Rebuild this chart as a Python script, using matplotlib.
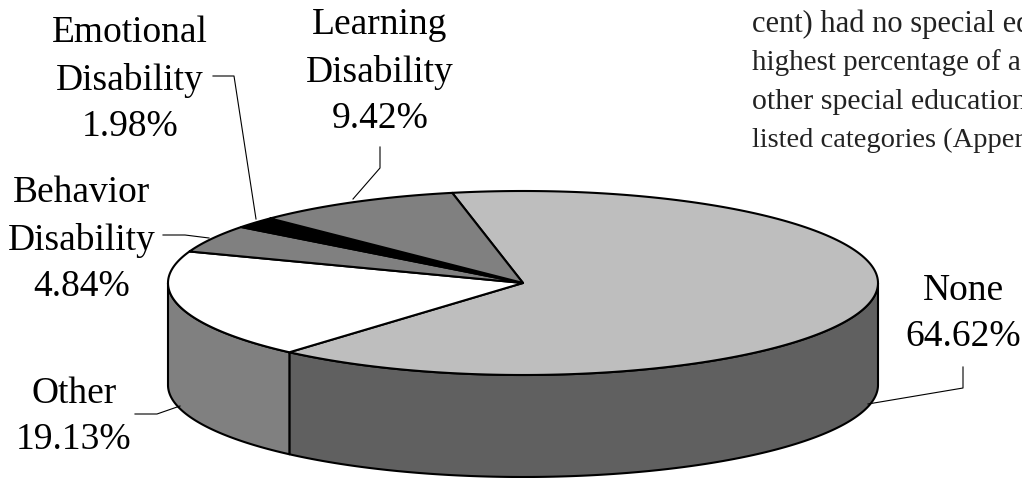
import numpy as np
import matplotlib
matplotlib.use('Agg')
import matplotlib.pyplot as plt
from matplotlib.patches import Polygon

plt.rcParams['font.family'] = ['Liberation Serif', 'DejaVu Serif']

# slices, clockwise from the top of the pie
categories = ['None', 'Other', 'Behavior\nDisability', 'Emotional\nDisability', 'Learning\nDisability']
values = [64.62, 19.13, 4.84, 1.98, 9.42]
top_colors = ['#bebebe', '#ffffff', '#808080', '#000000', '#808080']
side_colors = ['#606060', '#808080', '#808080', '#000000', '#808080']

# label centre and leader line, in image pixels
label_pos = [(963, 314), (74, 417), (82, 240), (130, 80), (380, 72)]
leaders = [
    [(963, 367), (963, 388), (868, 404)],
    [(135, 414), (157, 414), (180, 406)],
    [(163, 235), (185, 235), (209, 238)],
    [(213, 76), (234, 76), (256, 219)],
    [(380, 147), (380, 168), (353, 199)],
]

body_lines = ['cent) had no special ed', 'highest percentage of a',
              'other special education', 'listed categories (Apper']
body_sizes = [22, 21, 21.5, 20.5]

cx, cy = 523, 283
rx, ry = 355, 92
depth = 102
start = 101.5

fig = plt.figure(figsize=(10.22, 4.78), dpi=100)
ax = fig.add_axes([0, 0, 1, 1])
ax.set_xlim(0, 1022)
ax.set_ylim(478, 0)
ax.axis('off')


def rim(a0, a1, dy=0):
    t = np.radians(np.linspace(a0, a1, 200))
    return np.column_stack([cx + rx*np.cos(t), cy + dy - ry*np.sin(t)])


# angles go clockwise
sweeps = np.array(values)/sum(values)*360
ends = start - np.cumsum(sweeps)
starts = ends + sweeps

# side wall, only the front half of the rim (180..360 deg)
for a0, a1, col in zip(starts, ends, side_colors):
    for shift in [0, 360, -360]:
        lo = max(a1 + shift, 180)
        hi = min(a0 + shift, 360)
        if hi > lo:
            upper = rim(hi, lo)
            lower = rim(lo, hi, depth)
            ax.add_patch(Polygon(np.vstack([upper, lower]), closed=True, fc=col,
                                 ec='black', lw=1.5, joinstyle='round'))

# top face
for a0, a1, col in zip(starts, ends, top_colors):
    pts = np.vstack([[(cx, cy)], rim(a0, a1)])
    ax.add_patch(Polygon(pts, closed=True, fc=col, ec='black', lw=1.5, joinstyle='round'))

for name, val, pos, line in zip(categories, values, label_pos, leaders):
    ax.text(pos[0], pos[1], '%s\n%.2f%%' % (name, val), ha='center', va='center',
            fontsize=27, linespacing=1.45, color='black')
    xs, ys = zip(*line)
    ax.plot(xs, ys, color='black', lw=0.8)

for i, txt in enumerate(body_lines):
    ax.text(752, 32 + i*38.4, txt, ha='left', va='baseline', fontsize=body_sizes[i], color='#222222')

fig.savefig('out.png', dpi=100)
